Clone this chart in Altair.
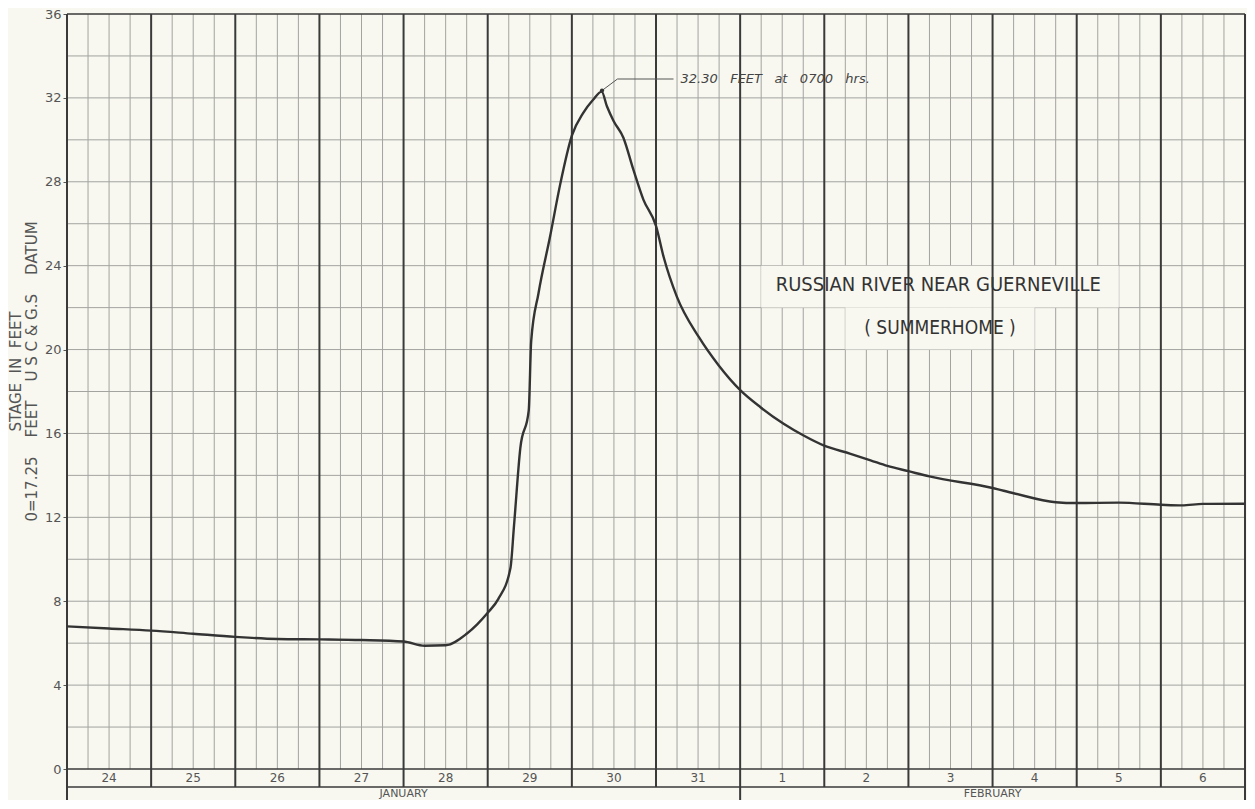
import altair as alt
import pandas as pd

NB = "\u00a0"  # non-breaking space keeps the wide lettering gaps of the original

# ---- data (hours from Jan 24 00:00, stage in feet)
hours = [0, 12, 24, 36, 48, 60, 72, 84, 96, 102, 108, 114, 117, 120, 123, 126.5,
         127.5, 129.3, 131.7, 132.4, 134.5, 137.8, 140.7, 144, 147.3, 150, 152.5,
         154, 155.9, 158.7, 161.5, 164.4, 168, 170.2, 174, 180.2, 185.9, 192.1, 197.8,
         204.4, 210.1, 215.8, 223.5, 229.2, 234, 240, 246, 264, 270, 282, 288,
         300, 312, 318, 324, 336]
stage = [6.8, 6.7, 6.6, 6.45, 6.3, 6.2, 6.18, 6.15, 6.08, 5.88, 5.9, 6.45, 6.9, 7.45, 8.1, 9.6,
         11.6, 15.3, 17.1, 20.4, 22.7, 25.4, 27.9, 30.2, 31.3, 31.9, 32.3,
         31.6, 30.9, 30.1, 28.6, 27.15, 25.9, 24.4, 22.5, 20.6, 19.24, 18.05, 17.25,
         16.46, 15.9, 15.43, 15.03, 14.72, 14.45, 14.2, 13.95, 13.4, 13.15, 12.72, 12.68,
         12.7, 12.6, 12.57, 12.64, 12.65]

day_labels = ["24", "25", "26", "27", "28", "29", "30", "31",
              "1", "2", "3", "4", "5", "6"]
month_labels = ["JANUARY", "FEBRUARY"]
month_start = [0, 192]
month_end = [192, 336]
y_ticks = [0, 4, 8, 12, 16, 20, 24, 28, 32, 36]
y_title = [
    "STAGE" + NB * 2 + "IN" + NB * 2 + "FEET",
    "0=17.25" + NB * 4 + "FEET" + NB * 4 + "U" + NB + "S" + NB + "C" + NB + "&"
    + NB + "G.S" + NB * 4 + "DATUM",
]

peak_label = "32.30" + NB * 3 + "FEET" + NB * 3 + "at" + NB * 3 + "0700" + NB * 3 + "hrs."
leader_h = [152.6, 157, 173]
leader_ft = [32.35, 32.9, 32.9]
title_lines = ["RUSSIAN RIVER NEAR GUERNEVILLE", "( SUMMERHOME )"]
title_sizes = [20, 19]

BG = "#f8f8f0"
DARK = "#3a3a3a"
GRID = "#a3a3a0"
TXT = "#555555"
FONT = "DejaVu Sans"

PXFT = 755 / 36.0            # pixels per foot
Y_DAY = -18 / PXFT           # bottom of day-label row
Y_MON = -31 / PXFT           # bottom of month row (canvas bottom)

xs = alt.Scale(domain=[0, 336], nice=False, zero=False)
ys = alt.Scale(domain=[Y_MON, 36], nice=False, zero=False)

# ---- tables
curve = pd.DataFrame({"h": hours, "ft": stage})
vh = [h for h in range(6, 336, 6) if h % 24 != 0]
thin_v = pd.DataFrame({"h": vh, "ft": [0] * len(vh), "ft2": [36] * len(vh)})
hz = list(range(2, 36, 2))
thin_hz = pd.DataFrame({"ft": hz, "h": [0] * len(hz), "h2": [336] * len(hz)})
dh = list(range(0, 337, 24))
day_lines = pd.DataFrame({
    "h": dh,
    "ft": [Y_MON if h in (0, 192, 336) else Y_DAY for h in dh],
    "ft2": [36] * len(dh),
})
bft = [36, 0, Y_DAY]
borders = pd.DataFrame({"ft": bft, "h": [0] * 3, "h2": [336] * 3})
days = pd.DataFrame({"h": [24 * i + 12 for i in range(len(day_labels))],
                     "ft": [Y_DAY / 2] * len(day_labels),
                     "t": day_labels})
months = pd.DataFrame({"h": [(a + b) / 2 for a, b in zip(month_start, month_end)],
                       "ft": [(Y_DAY + Y_MON) / 2] * 2,
                       "t": month_labels})
boxes = pd.DataFrame({"h": [198, 222], "h2": [300, 276],
                      "ft": [22, 20], "ft2": [24, 22]})
titles = pd.DataFrame({"h": [248.5, 249], "ft": [23.1, 21.05],
                       "t": title_lines, "fs": title_sizes})
leader = pd.DataFrame({"h": leader_h, "ft": leader_ft, "o": [0, 1, 2]})
peak = pd.DataFrame({"h": [leader_h[0]], "ft": [leader_ft[0]]})
ann = pd.DataFrame({"h": [175.0], "ft": [32.9], "t": [peak_label]})

yaxis = alt.Axis(
    values=y_ticks, domain=False, grid=False, ticks=True, tickSize=4,
    tickColor=TXT, labelColor=TXT, labelFont=FONT, labelFontSize=13,
    labelPadding=2,
    title=y_title,
    titleFont=FONT, titleFontSize=15, titleFontWeight="normal",
    titleColor=TXT, titleX=-52, titleY=357, titleAngle=-90,
    titleAlign="center", titleBaseline="middle", titleLineHeight=16)

X = alt.X("h:Q", scale=xs, axis=None)
Y = alt.Y("ft:Q", scale=ys, axis=yaxis)

# ---- layers
l_thin_v = alt.Chart(thin_v).mark_rule(color=GRID, strokeWidth=1).encode(
    x=X, y=Y, y2="ft2:Q")
l_thin_h = alt.Chart(thin_hz).mark_rule(color=GRID, strokeWidth=1).encode(
    x=X, x2="h2:Q", y=Y)
l_boxes = alt.Chart(boxes).mark_rect(fill=BG).encode(
    x=X, x2="h2:Q", y=Y, y2="ft2:Q")
l_days = alt.Chart(day_lines).mark_rule(color=DARK, strokeWidth=2).encode(
    x=X, y=Y, y2="ft2:Q")
l_borders = alt.Chart(borders).mark_rule(color=DARK, strokeWidth=1.6).encode(
    x=X, x2="h2:Q", y=Y)
l_leader = alt.Chart(leader).mark_line(color="#555555", strokeWidth=1).encode(
    x=X, y=Y, order="o:Q")
l_peak = alt.Chart(peak).mark_point(filled=True, color="#333333", size=18,
                                    opacity=1).encode(x=X, y=Y)
l_ann = alt.Chart(ann).mark_text(align="left", baseline="middle", font=FONT,
                                 fontSize=13, fontStyle="italic",
                                 color="#444444").encode(x=X, y=Y, text="t:N")
l_titles = alt.Chart(titles).mark_text(align="center", baseline="middle",
                                       font="DejaVu Sans Condensed",
                                       color="#333333").encode(
    x=X, y=Y, text="t:N", size=alt.Size("fs:Q", scale=None, legend=None))
l_daytxt = alt.Chart(days).mark_text(align="center", baseline="middle",
                                     font=FONT, fontSize=12,
                                     color=TXT).encode(x=X, y=Y, text="t:N")
l_montxt = alt.Chart(months).mark_text(align="center", baseline="middle",
                                       font=FONT, fontSize=11,
                                       color=TXT).encode(x=X, y=Y, text="t:N")
l_curve = alt.Chart(curve).mark_line(color="#333333", strokeWidth=2.4,
                                      interpolate="monotone").encode(x=X, y=Y)

chart = alt.layer(
    l_thin_v, l_thin_h, l_boxes, l_days, l_borders,
    l_leader, l_peak, l_ann, l_titles, l_daytxt, l_montxt, l_curve
).properties(
    width=1178, height=786,
    autosize=alt.AutoSizeParams(type="none"),
    padding={"left": 59, "top": 6, "right": 2, "bottom": 0},
    background=BG,
).configure_view(stroke=None)

chart.save("out.html", embed_options={"renderer": "svg", "actions": False})
